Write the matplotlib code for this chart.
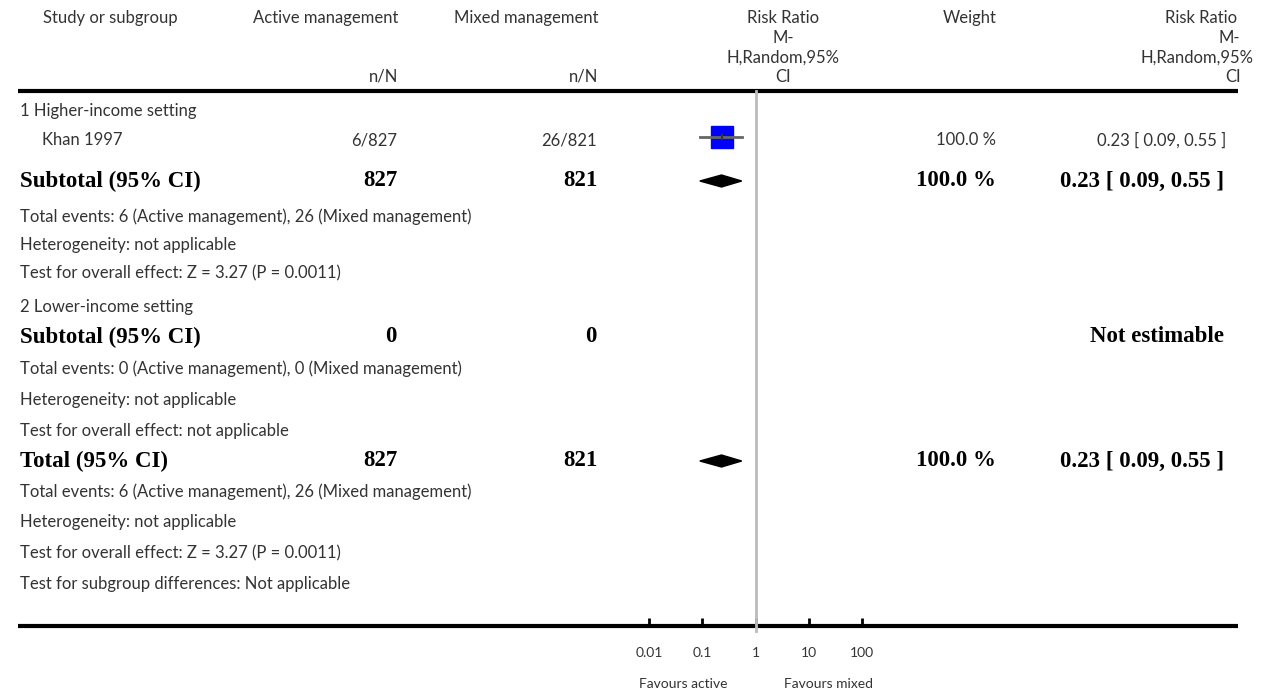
import matplotlib
matplotlib.use('Agg')
import matplotlib.pyplot as plt
from matplotlib.patches import Polygon

# data
study = ['Khan 1997']
active_nN = ['6/827']
mixed_nN = ['26/821']
rr = [0.23]
rr_lo = [0.09]
rr_hi = [0.55]
weight = ['100.0 %']
rr_text = ['0.23 [ 0.09, 0.55 ]']

sub1_n = ['827', '821']
sub1_rr = (0.23, 0.09, 0.55)
sub2_n = ['0', '0']
total_n = ['827', '821']
total_rr = (0.23, 0.09, 0.55)

ticks = [0.01, 0.1, 1, 10, 100]
tick_labels = ['0.01', '0.1', '1', '10', '100']

W, H = 1266, 692
fig = plt.figure(figsize=(W / 100, H / 100), dpi=100)
bg = fig.add_axes([0, 0, 1, 1])
bg.set_xlim(0, W)
bg.set_ylim(H, 0)
bg.axis('off')

REG = dict(family=['Lato', 'DejaVu Sans'], fontweight='normal', fontsize=12, color='#333333')
BOLD = dict(family=['Liberation Serif'], fontweight='bold', fontsize=16.5, color='black')


def t(x, y, s, ha='left', style=REG):
    bg.text(x, y, s, ha=ha, va='center', **style)


# header
hdr_y = [18, 38, 58, 77]
t(110, 18, 'Study or subgroup', 'center')
t(398, 18, 'Active management', 'right')
t(598, 18, 'Mixed management', 'right')
t(398, 77, 'n/N', 'right')
t(598, 77, 'n/N', 'right')
for yy, s in zip(hdr_y, ['Risk Ratio', 'M-', 'H,Random,95%', 'CI']):
    t(783, yy, s, 'center')
t(970, 18, 'Weight', 'center')
for yy, s, xr in zip(hdr_y, ['Risk Ratio', 'M-', 'H,Random,95%', 'CI'], [1237, 1240, 1253, 1241]):
    t(xr, yy, s, 'right')

bg.plot([18, 1238], [91, 91], color='black', lw=3, solid_capstyle='butt')
bg.plot([18, 1238], [626, 626], color='black', lw=3, solid_capstyle='butt')

# rows
t(20, 111, '1 Higher-income setting')
t(42, 140, study[0])
t(397, 140, active_nN[0], 'right')
t(597, 140, mixed_nN[0], 'right')
t(996, 140, weight[0], 'right')
t(1226, 140, rr_text[0], 'right')

t(20, 181, 'Subtotal (95% CI)', style=BOLD)
t(397, 181, sub1_n[0], 'right', BOLD)
t(597, 181, sub1_n[1], 'right', BOLD)
t(996, 181, '100.0 %', 'right', BOLD)
t(1224, 181, '0.23 [ 0.09, 0.55 ]', 'right', BOLD)
t(20, 217, 'Total events: 6 (Active management), 26 (Mixed management)')
t(20, 245, 'Heterogeneity: not applicable')
t(20, 273, 'Test for overall effect: Z = 3.27 (P = 0.0011)')

t(20, 307, '2 Lower-income setting')
t(20, 337, 'Subtotal (95% CI)', style=BOLD)
t(397, 337, sub2_n[0], 'right', BOLD)
t(597, 337, sub2_n[1], 'right', BOLD)
t(1224, 337, 'Not estimable', 'right', BOLD)
t(20, 369, 'Total events: 0 (Active management), 0 (Mixed management)')
t(20, 400, 'Heterogeneity: not applicable')
t(20, 431, 'Test for overall effect: not applicable')

t(20, 461, 'Total (95% CI)', style=BOLD)
t(397, 461, total_n[0], 'right', BOLD)
t(597, 461, total_n[1], 'right', BOLD)
t(996, 461, '100.0 %', 'right', BOLD)
t(1224, 461, '0.23 [ 0.09, 0.55 ]', 'right', BOLD)
t(20, 492, 'Total events: 6 (Active management), 26 (Mixed management)')
t(20, 522, 'Heterogeneity: not applicable')
t(20, 553, 'Test for overall effect: Z = 3.27 (P = 0.0011)')
t(20, 584, 'Test for subgroup differences: Not applicable')

t(683, 684, 'Favours active', 'center', dict(REG, fontsize=10))
t(829, 684, 'Favours mixed', 'center', dict(REG, fontsize=10))

# forest axes
x0, x1 = 649, 862
y_top, y_bot = 91, 626
fx = fig.add_axes([x0 / W, 1 - y_bot / H, (x1 - x0) / W, (y_bot - y_top) / H])
fx.set_xscale('log')
fx.set_xlim(0.01, 100)
fx.set_ylim(y_bot, y_top)
fx.patch.set_alpha(0)
for sp in fx.spines.values():
    sp.set_visible(False)
fx.set_yticks([])
fx.set_xticks(ticks)
fx.set_xticklabels(tick_labels, family=['Lato', 'DejaVu Sans'], fontsize=10, color='#333333')
fx.minorticks_off()
fx.tick_params(axis='x', direction='in', length=6, width=2, pad=15, color='black')
fx.xaxis.get_major_ticks()[2].tick1line.set_color('#bbbbbb')

fx.axvline(1, color='#bbbbbb', lw=2, ymin=-0.01, ymax=1, clip_on=False)

# study
fx.plot(rr, [137], marker='s', ms=15.8, color='#0000ff', ls='none', clip_on=False)
fx.plot([rr_lo[0], rr_hi[0]], [137, 137], color='#666666', lw=2, clip_on=False)
fx.plot(rr, [137], marker='|', ms=5, mew=1.5, color='#333333', clip_on=False)

for yy, (est, lo, hi) in [(181, sub1_rr), (461, total_rr)]:
    fx.add_patch(Polygon([(lo, yy), (est, yy - 6), (hi, yy), (est, yy + 6)],
                         closed=True, color='black', clip_on=False))

fig.savefig('out.png', dpi=100)
